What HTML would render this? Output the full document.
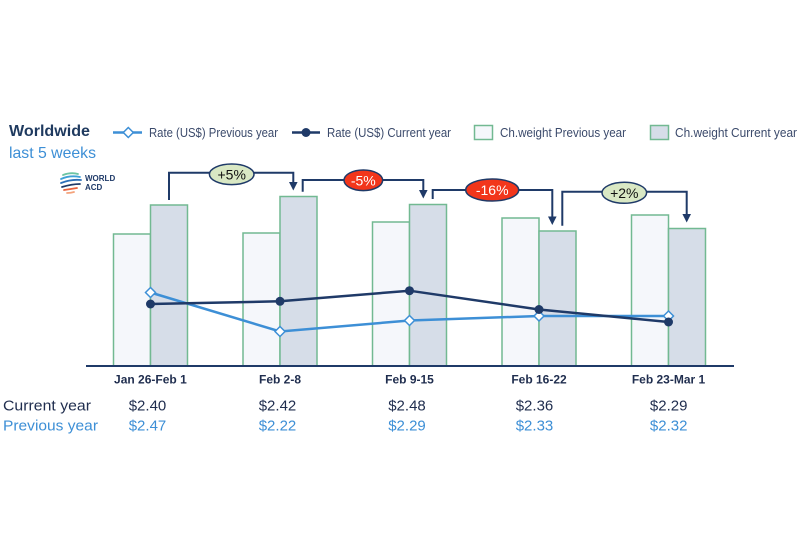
<!DOCTYPE html>
<html><head><meta charset="utf-8"><style>
html,body{margin:0;padding:0;background:#fff;}
svg{display:block;font-family:"Liberation Sans",sans-serif;}
</style></head><body>
<svg width="800" height="560" viewBox="0 0 800 560" xmlns="http://www.w3.org/2000/svg">
<rect width="800" height="560" fill="#fff"/>
<!-- title -->
<text x="9" y="136" font-size="15.5" font-weight="bold" fill="#1f3a5f" textLength="81" lengthAdjust="spacingAndGlyphs">Worldwide</text>
<text x="9" y="158" font-size="16" fill="#3d8fd6" textLength="87" lengthAdjust="spacingAndGlyphs">last 5 weeks</text>
<!-- legend -->
<line x1="113" y1="132.5" x2="142" y2="132.5" stroke="#3d8fd6" stroke-width="2.5"/>
<polygon points="128.3,127.5 133.3,132.5 128.3,137.5 123.3,132.5" fill="#fff" stroke="#3d8fd6" stroke-width="1.5"/>
<text x="149" y="137" font-size="12.5" fill="#3b4a6b" textLength="129" lengthAdjust="spacingAndGlyphs">Rate (US$) Previous year</text>
<line x1="292" y1="132.5" x2="320" y2="132.5" stroke="#1f3a68" stroke-width="2.5"/>
<circle cx="306" cy="132.5" r="4.5" fill="#1f3a68"/>
<text x="327" y="137" font-size="12.5" fill="#3b4a6b" textLength="124" lengthAdjust="spacingAndGlyphs">Rate (US$) Current year</text>
<rect x="474.5" y="125.5" width="18" height="14" fill="#f5f7fb" stroke="#72b992" stroke-width="1.5"/>
<text x="500" y="137" font-size="12.5" fill="#3b4a6b" textLength="126" lengthAdjust="spacingAndGlyphs">Ch.weight Previous year</text>
<rect x="650.5" y="125.5" width="18" height="14" fill="#d6dde8" stroke="#72b992" stroke-width="1.5"/>
<text x="675" y="137" font-size="12.5" fill="#3b4a6b" textLength="122" lengthAdjust="spacingAndGlyphs">Ch.weight Current year</text>
<!-- logo -->
<g fill="none" stroke-width="1.8" stroke-linecap="round">
<path d="M63 175 Q71 172 78 174" stroke="#6cc4a4"/>
<path d="M61 179 Q70 175 80 177" stroke="#3da0d6"/>
<path d="M61 183 Q71 179 81 180" stroke="#2b6fb8"/>
<path d="M62 187 Q72 184 80 184" stroke="#1f3a68"/>
<path d="M64 190 Q71 189 77 188" stroke="#e8613c"/>
<path d="M67 193 Q71 193 74 192" stroke="#f4a37c"/>
</g>
<text x="85" y="181" font-size="8" font-weight="bold" fill="#1f3a68">WORLD</text>
<text x="85" y="190" font-size="8" font-weight="bold" fill="#1f3a68">ACD</text>
<!-- bars -->
<g stroke="#72b992" stroke-width="1.5">
<rect x="113.5" y="234" width="37" height="132" fill="#f5f7fb"/>
<rect x="150.5" y="205" width="37" height="161" fill="#d6dde8"/>
<rect x="243" y="233" width="37" height="133" fill="#f5f7fb"/>
<rect x="280" y="196.5" width="37" height="169.5" fill="#d6dde8"/>
<rect x="372.5" y="222" width="37" height="144" fill="#f5f7fb"/>
<rect x="409.5" y="204.5" width="37" height="161.5" fill="#d6dde8"/>
<rect x="502" y="218" width="37" height="148" fill="#f5f7fb"/>
<rect x="539" y="231" width="37" height="135" fill="#d6dde8"/>
<rect x="631.5" y="215" width="37" height="151" fill="#f5f7fb"/>
<rect x="668.5" y="228.5" width="37" height="137.5" fill="#d6dde8"/>
</g>
<line x1="86" y1="366" x2="734" y2="366" stroke="#1f3a68" stroke-width="2"/>
<!-- lines -->
<polyline points="150.5,292.5 280,331.5 409.5,320.5 539,316 668.5,316" fill="none" stroke="#3d8fd6" stroke-width="2.5"/>
<polyline points="150.5,304 280,301.3 409.5,290.7 539,309.5 668.5,322" fill="none" stroke="#1f3a68" stroke-width="2.5"/>
<g fill="#fff" stroke="#3d8fd6" stroke-width="1.5">
<polygon points="150.5,287.5 155.5,292.5 150.5,297.5 145.5,292.5"/>
<polygon points="280,326.5 285,331.5 280,336.5 275,331.5"/>
<polygon points="409.5,315.5 414.5,320.5 409.5,325.5 404.5,320.5"/>
<polygon points="539,311 544,316 539,321 534,316"/>
<polygon points="668.5,311 673.5,316 668.5,321 663.5,316"/>
</g>
<g fill="#1f3a68">
<circle cx="150.5" cy="304" r="4.5"/>
<circle cx="280" cy="301.3" r="4.5"/>
<circle cx="409.5" cy="290.7" r="4.5"/>
<circle cx="539" cy="309.5" r="4.5"/>
<circle cx="668.5" cy="322" r="4.5"/>
</g>
<!-- connectors -->
<g fill="none" stroke="#1f3a68" stroke-width="2">
<polyline points="169,200 169,172.7 293.3,172.7 293.3,183"/>
<polyline points="302.7,191.7 302.7,180 423.3,180 423.3,191"/>
<polyline points="432.7,199 432.7,190 552.3,190 552.3,218"/>
<polyline points="562.3,225.7 562.3,191.7 686.7,191.7 686.7,215"/>
</g>
<g fill="#1f3a68">
<polygon points="289,182 297.6,182 293.3,190.5"/>
<polygon points="419,190 427.6,190 423.3,198.5"/>
<polygon points="548,216.5 556.6,216.5 552.3,225"/>
<polygon points="682.4,214 691,214 686.7,222.5"/>
</g>
<ellipse cx="231.7" cy="174.3" rx="22.3" ry="10.3" fill="#d9e8c4" stroke="#1f3a68" stroke-width="1.5"/>
<text x="231.7" y="179.5" font-size="14" text-anchor="middle" fill="#111">+5%</text>
<ellipse cx="363.3" cy="180.3" rx="19.3" ry="10.3" fill="#f2361b" stroke="#1f3a68" stroke-width="1.5"/>
<text x="363.3" y="185.5" font-size="14" text-anchor="middle" fill="#fff">-5%</text>
<ellipse cx="492.2" cy="190" rx="26.5" ry="11" fill="#f2361b" stroke="#1f3a68" stroke-width="1.5"/>
<text x="492.2" y="195.2" font-size="14" text-anchor="middle" fill="#fff">-16%</text>
<ellipse cx="624.3" cy="192.8" rx="22.3" ry="10.5" fill="#d9e8c4" stroke="#1f3a68" stroke-width="1.5"/>
<text x="624.3" y="198" font-size="14" text-anchor="middle" fill="#111">+2%</text>
<!-- category labels -->
<g font-size="12" font-weight="bold" fill="#1f2d4e" text-anchor="middle">
<text x="150.4" y="383.5">Jan 26-Feb 1</text>
<text x="280" y="383.5">Feb 2-8</text>
<text x="409.5" y="383.5">Feb 9-15</text>
<text x="539" y="383.5">Feb 16-22</text>
<text x="668.5" y="383.5">Feb 23-Mar 1</text>
</g>
<!-- table -->
<text x="3" y="410.5" font-size="15" fill="#1f2d4e" textLength="88" lengthAdjust="spacingAndGlyphs">Current year</text>
<text x="3" y="430.5" font-size="15" fill="#3d8fd6" textLength="95" lengthAdjust="spacingAndGlyphs">Previous year</text>
<g font-size="15" fill="#1f2d4e" text-anchor="middle">
<text x="147.5" y="410.5">$2.40</text>
<text x="277.5" y="410.5">$2.42</text>
<text x="407" y="410.5">$2.48</text>
<text x="534.5" y="410.5">$2.36</text>
<text x="668.7" y="410.5">$2.29</text>
</g>
<g font-size="15" fill="#3d8fd6" text-anchor="middle">
<text x="147.5" y="430.5">$2.47</text>
<text x="277.5" y="430.5">$2.22</text>
<text x="407" y="430.5">$2.29</text>
<text x="534.5" y="430.5">$2.33</text>
<text x="668.7" y="430.5">$2.32</text>
</g>
</svg>
</body></html>
